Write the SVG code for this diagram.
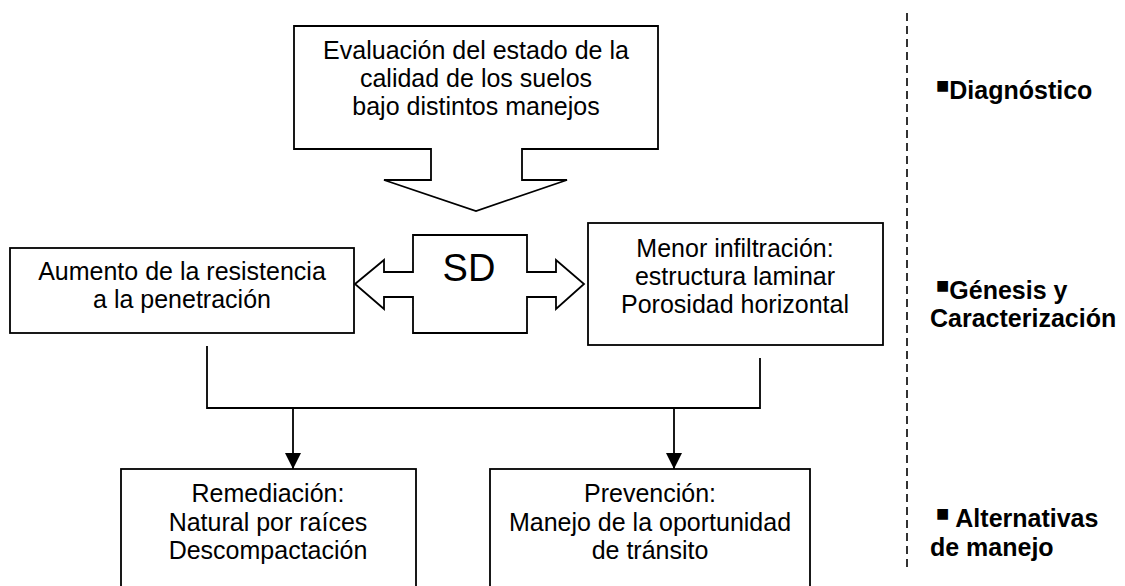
<svg xmlns="http://www.w3.org/2000/svg" width="1125" height="586" viewBox="0 0 1125 586">
<style>
.box{fill:#fff;stroke:#000;stroke-width:1.8}
.ln{fill:none;stroke:#000;stroke-width:1.8}
.t{font-family:"Liberation Sans",Arial,sans-serif;font-size:25px;fill:#000;text-anchor:middle}
.sd{font-family:"Liberation Sans",Arial,sans-serif;font-size:38px;fill:#000;text-anchor:middle}
.lab{font-family:"Liberation Sans",Arial,sans-serif;font-size:25px;font-weight:bold;fill:#000}
.bul{font-size:22px;font-weight:normal}
</style>
<defs>
<marker id="ah" markerWidth="16" markerHeight="16" refX="16" refY="8" orient="auto" markerUnits="userSpaceOnUse">
<path d="M0,0 L16,8 L0,16 Z" fill="#000"/>
</marker>
</defs>
<rect width="1125" height="586" fill="#fff"/>
<g id="diagnostico">
<path class="box" d="M294,26 H658 V149 H522 V180 H567 L476,211 L384,180 H431 V149 H294 Z"/>
<text class="t" x="476" y="59">Evaluación del estado de la</text>
<text class="t" x="476" y="87">calidad de los suelos</text>
<text class="t" x="476" y="115">bajo distintos manejos</text>
</g>
<g id="aumento">
<rect class="box" x="10" y="248" width="344" height="85"/>
<text class="t" x="182" y="280">Aumento de la resistencia</text>
<text class="t" x="182" y="308">a la penetración</text>
</g>
<g id="sd">
<path class="box" d="M355,284 L384,260 V272 H413 V235 H527 V272 H556 V260 L584,284 L556,309 V297 H527 V333 H413 V297 H384 V309 Z"/>
<text class="sd" x="469" y="281">SD</text>
</g>
<g id="menor">
<rect class="box" x="588" y="223" width="295" height="122"/>
<text class="t" x="735" y="257">Menor infiltración:</text>
<text class="t" x="735" y="285">estructura laminar</text>
<text class="t" x="735" y="313">Porosidad horizontal</text>
</g>
<g id="remediacion">
<rect class="box" x="121" y="469" width="295" height="140"/>
<text class="t" x="268" y="502">Remediación:</text>
<text class="t" x="268" y="531">Natural por raíces</text>
<text class="t" x="268" y="559">Descompactación</text>
</g>
<g id="prevencion">
<rect class="box" x="490" y="469" width="320" height="140"/>
<text class="t" x="650" y="502">Prevención:</text>
<text class="t" x="650" y="531">Manejo de la oportunidad</text>
<text class="t" x="650" y="559">de tránsito</text>
</g>
<g id="connectors">
<path class="ln" d="M207,346 V408 H760 V358"/>
<line class="ln" x1="293" y1="408" x2="293" y2="469" marker-end="url(#ah)"/>
<line class="ln" x1="674" y1="408" x2="674" y2="469" marker-end="url(#ah)"/>
</g>
<g id="etapas">
<line x1="907" y1="13" x2="907" y2="570" stroke="#000" stroke-width="1.6" stroke-dasharray="8,5"/>
<text class="lab" x="936" y="99"><tspan class="bul" dy="-6">■</tspan><tspan dy="6">Diagnóstico</tspan></text>
<text class="lab" x="936" y="299"><tspan class="bul" dy="-6">■</tspan><tspan dy="6">Génesis y</tspan></text>
<text class="lab" x="930" y="327">Caracterización</text>
<text class="lab" x="936" y="527"><tspan class="bul" dy="-6">■</tspan><tspan dy="6"> Alternativas</tspan></text>
<text class="lab" x="930" y="556">de manejo</text>
</g>
</svg>
